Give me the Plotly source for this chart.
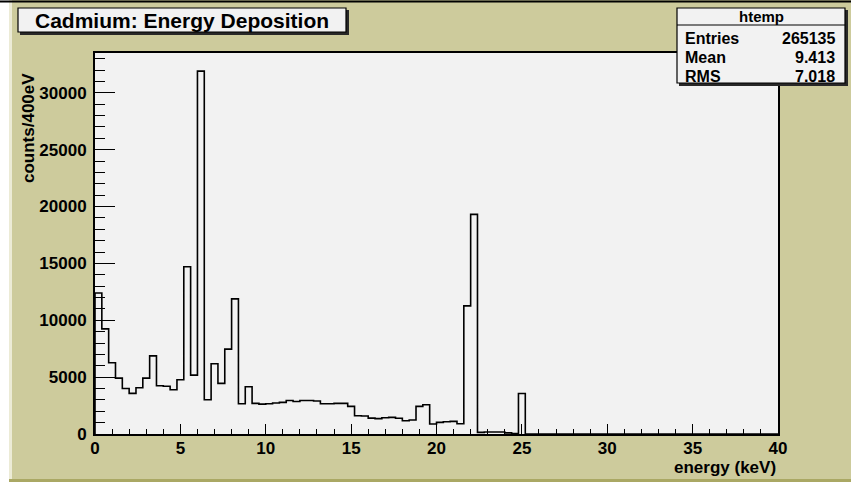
import plotly.graph_objects as go

# Energy deposition spectrum in cadmium, 400 eV bins from 0 to 40 keV
bin_width_kev = 0.4
n_bins = 100
counts = [
    12400, 9240, 6260, 4910, 4000, 3570, 4060, 4910, 6870, 4240,
    4200, 3890, 4770, 14710, 5180, 31900, 3010, 6170, 4450, 7460,
    11880, 2660, 4150, 2690, 2630, 2660, 2720, 2780, 2950, 2860,
    2950, 2950, 2900, 2660, 2660, 2690, 2690, 2430, 1610, 1580,
    1400, 1350, 1430, 1460, 1380, 1170, 1230, 2430, 2570, 880,
    1020, 1080, 1110, 900, 11260, 19310, 140, 170, 170, 170,
    100, 50, 3560,
] + [0] * 37

stats_labels = ["Entries", "Mean", "RMS"]
stats_values = ["265135", "9.413", "7.018"]
hist_name = "htemp"
title_text = "Cadmium: Energy Deposition"
x_title = "energy (keV)"
y_title = "counts/400eV"

x_ticks = [0, 5, 10, 15, 20, 25, 30, 35, 40]
x_tick_text = ["0", "5", "10", "15", "20", "25", "30", "35", "40"]
y_ticks = [0, 5000, 10000, 15000, 20000, 25000, 30000]
y_tick_text = ["0", "5000", "10000", "15000", "20000", "25000", "30000"]

# step outline: left edge of each bin, plus the closing right edge
edges = [i * bin_width_kev for i in range(n_bins + 1)]
step_x = [0.0] + edges
step_y = [0] + counts + [counts[-1]]

W, H = 851, 485
L, R, T, B = 95, 778, 53, 434  # frame in pixels

FONT = "Liberation Sans, Arial, Helvetica, sans-serif"
KHAKI = "rgb(205,203,156)"
PANEL = "rgb(242,242,242)"


def px(x):
    return (x - L) / (R - L)


def py(y):
    return (B - y) / (B - T)


def rect(x0, y0, x1, y1, fill, line_color=None, line_width=0, layer="above"):
    return dict(
        type="rect", xref="paper", yref="paper",
        x0=px(x0), x1=px(x1), y0=py(y1), y1=py(y0),
        fillcolor=fill, layer=layer,
        line=dict(color=line_color or fill, width=line_width),
    )


def hline(x0, x1, y, color="black", width=1):
    return dict(type="line", xref="paper", yref="paper",
                x0=px(x0), x1=px(x1), y0=py(y), y1=py(y),
                line=dict(color=color, width=width), layer="above")


fig = go.Figure()
fig.add_trace(go.Scatter(
    x=step_x, y=step_y, mode="lines",
    line=dict(color="black", width=1.6, shape="hv"),
    hoverinfo="skip", showlegend=False,
))

shapes = [
    # canvas bevel
    rect(0, 0, 9, H, "white", layer="below"),
    rect(9, 0, 12, 482, "rgb(236,235,214)", layer="below"),
    rect(9, 479, W, 482, "rgb(170,168,100)", layer="below"),
    rect(9, 482, W, H, "white", layer="below"),
    hline(0, W + 5, 1.5, "black", 2),
    # title box with shadow
    rect(20, 10, 349, 35, "rgb(40,40,40)"),
    rect(18, 8, 346, 32, PANEL, "black", 1.2),
    # statistics box with shadow
    rect(679, 10, 848, 86, "rgb(40,40,40)"),
    rect(677, 8, 845, 83, PANEL, "black", 1.2),
    hline(677, 845, 25, "black", 1),
]

annotations = [
    dict(text=title_text, x=px(182), y=py(20.5), xref="paper", yref="paper",
         showarrow=False, xanchor="center", yanchor="middle",
         font=dict(family=FONT, size=21, color="black", weight="bold")),
    dict(text=hist_name, x=px(761), y=py(16.5), xref="paper", yref="paper",
         showarrow=False, xanchor="center", yanchor="middle",
         font=dict(family=FONT, size=15, color="black", weight="bold")),
    dict(text=x_title, x=px(778), y=py(467), xref="paper", yref="paper",
         showarrow=False, xanchor="right", yanchor="middle",
         font=dict(family=FONT, size=17, color="black", weight="bold")),
    dict(text=y_title, x=px(28), y=py(71), xref="paper", yref="paper",
         showarrow=False, xanchor="center", yanchor="top", textangle=-90,
         font=dict(family=FONT, size=17, color="black", weight="bold")),
]
row_y = [39, 57, 76]
for lab, val, yy in zip(stats_labels, stats_values, row_y):
    annotations.append(dict(text=lab, x=px(683), y=py(yy), xref="paper", yref="paper",
                            showarrow=False, xanchor="left", yanchor="middle",
                            font=dict(family=FONT, size=16, color="black", weight="bold")))
    annotations.append(dict(text=val, x=px(837), y=py(yy), xref="paper", yref="paper",
                            showarrow=False, xanchor="right", yanchor="middle",
                            font=dict(family=FONT, size=16, color="black", weight="bold")))

axis_common = dict(
    showgrid=False, zeroline=False, showline=True, linecolor="black",
    linewidth=2, mirror=True, ticks="inside", tickcolor="black",
    tickwidth=1.3,
    tickfont=dict(family=FONT, size=17, color="black", weight="bold"),
)

fig.update_layout(
    width=W, height=H, autosize=False,
    margin=dict(l=L, r=W - R, t=T, b=H - B, pad=0),
    paper_bgcolor=KHAKI, plot_bgcolor=PANEL,
    showlegend=False,
    shapes=shapes, annotations=annotations,
    xaxis=dict(range=[0, 40], tickmode="array", tickvals=x_ticks, ticktext=x_tick_text,
               ticklen=10,
               minor=dict(dtick=1, ticklen=5, ticks="inside", tickcolor="black", tickwidth=1.3),
               ticklabelstandoff=-2, **axis_common),
    yaxis=dict(range=[0, 33495], tickmode="array", tickvals=y_ticks, ticktext=y_tick_text,
               ticklen=20,
               minor=dict(dtick=1000, ticklen=10, ticks="inside", tickcolor="black", tickwidth=1.3),
               ticklabelstandoff=3, **axis_common),
)

fig.write_html("out.html")
